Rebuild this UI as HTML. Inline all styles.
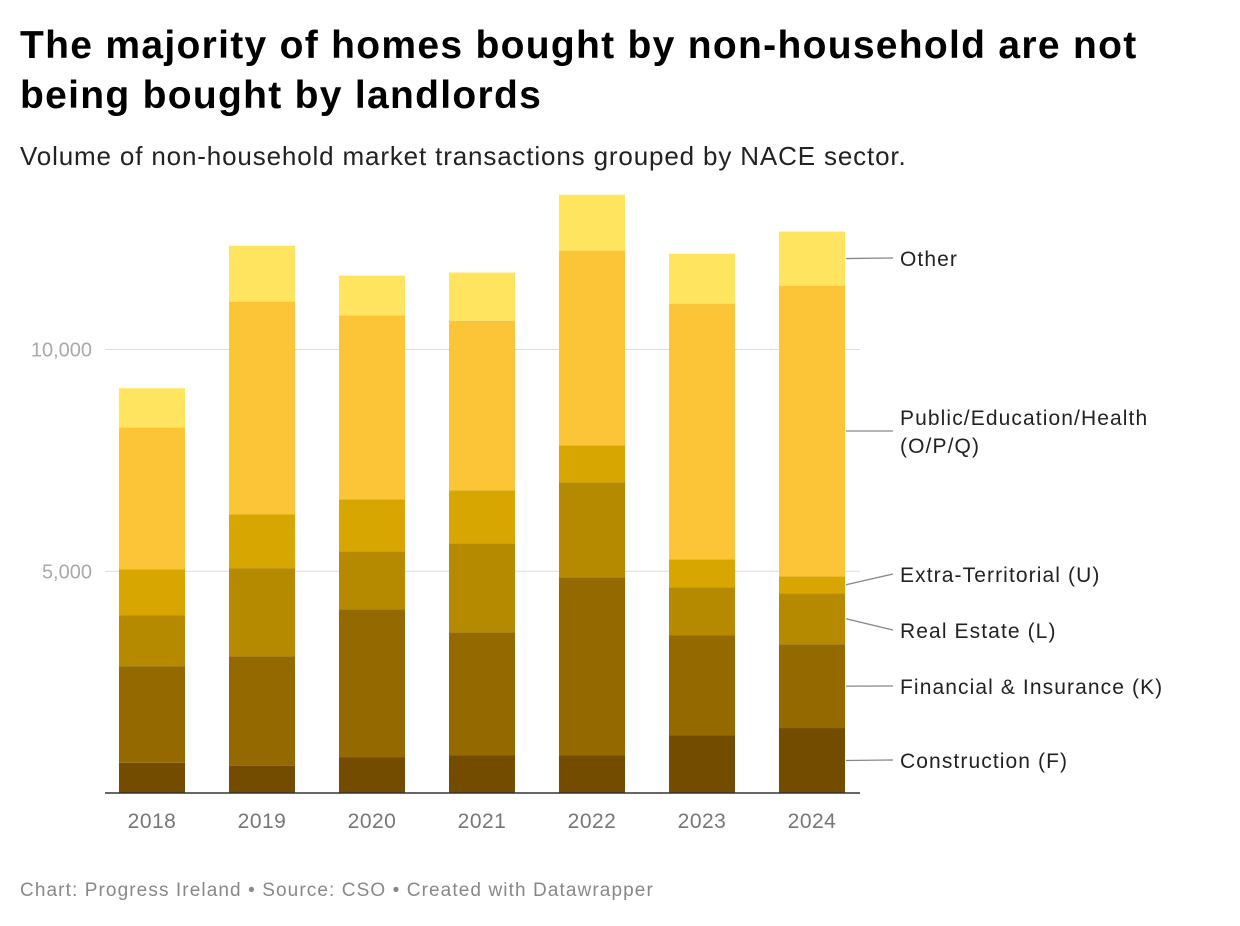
<!DOCTYPE html>
<html><head><meta charset="utf-8"><style>
body{margin:0;background:#fff;font-family:"Liberation Sans",Roboto,sans-serif;}
#wrap{position:relative;width:1240px;height:926px;overflow:hidden}
h1{position:absolute;left:20px;top:21px;margin:0;font-size:39px;line-height:50px;font-weight:bold;color:#000;width:1160px;letter-spacing:1.3px}
.sub{position:absolute;left:20px;top:141px;font-size:26px;letter-spacing:0.85px;color:#222}
.foot{position:absolute;left:20px;top:880px;font-size:19px;letter-spacing:1.1px;color:#888}
</style></head><body>
<div id="wrap">
<h1>The majority of homes bought by non-household are not being bought by landlords</h1>
<div class="sub">Volume of non-household market transactions grouped by NACE sector.</div>
<svg id="chart" width="1240" height="926" style="position:absolute;left:0;top:0"></svg>
<div class="foot">Chart: Progress Ireland • Source: CSO • Created with Datawrapper</div>
</div>
<script>
const years=["2018","2019","2020","2021","2022","2023","2024"];
const construction=[680,610,810,855,855,1305,1465];
const financial=[2180,2475,3335,2770,4010,2255,1890];
const realEstate=[1150,1985,1305,2005,2140,1080,1150];
const extraTerritorial=[1035,1210,1170,1195,835,630,380];
const publicEdHealth=[3200,4800,4145,3825,4390,5765,6555];
const other=[880,1260,900,1085,1260,1125,1220];
const yTicks=[0,5000,10000];
const seriesNames=["Construction (F)","Financial & Insurance (K)","Real Estate (L)","Extra-Territorial (U)","Public/Education/Health (O/P/Q)","Other"];
const series=[construction,financial,realEstate,extraTerritorial,publicEdHealth,other];
const colors=["#734c00","#946900","#b58900","#d8a600","#fcc537","#ffe55f"];
const labelY=[760,686,630,574,null,258];

const svg=document.getElementById('chart');
const NS="http://www.w3.org/2000/svg";
const y0=793,yScale=443.5/10000;
const y=v=>y0-v*yScale;
const xc=i=>152+i*110;
const bw=66;
function mk(t,a){const e=document.createElementNS(NS,t);for(const k in a)e.setAttribute(k,a[k]);svg.appendChild(e);return e;}

yTicks.forEach(t=>{
  if(t>0){const g=mk('line',{x1:105,x2:860,y1:y(t),y2:y(t),stroke:'#ddd','stroke-width':1});
  
  }
  if(t>0){const tx=mk('text',{x:92,y:y(t)+7,'text-anchor':'end','font-size':20,fill:'#aaa','font-family':'Liberation Sans,sans-serif'});
  tx.textContent=t.toLocaleString('en-US');
  
  }
});

const tops=[];
years.forEach((yr,i)=>{
  let cum=0;
  series.forEach((s,j)=>{
    const r=mk('rect',{x:xc(i)-bw/2,y:y(cum+s[i]),width:bw,height:s[i]*yScale,fill:colors[j]});
    
    
    if(i===years.length-1)tops.push([cum,cum+s[i]]);
    cum+=s[i];
  });
  const t=mk('text',{x:xc(i),y:828,'text-anchor':'middle','font-size':21,fill:'#777','font-family':'Liberation Sans,sans-serif','letter-spacing':0.5});
  t.textContent=yr;
  
  
});
const ax=mk('line',{x1:105,x2:860,y1:y0,y2:y0,stroke:'#333','stroke-width':1.5});



seriesNames.forEach((n,j)=>{
  const mid=y((tops[j][0]+tops[j][1])/2);
  const ly=labelY[j]===null?mid:labelY[j];
  const l=mk('path',{d:`M846 ${mid} L893 ${ly}`,stroke:'#888','stroke-width':1.3,fill:'none'});
  
  
  const t=mk('text',{x:900,y:ly+8,'font-size':21,fill:'#222','font-family':'Liberation Sans,sans-serif','letter-spacing':1.1});
  
  
  if(j===4){
    const a=document.createElementNS(NS,'tspan');a.setAttribute('x',900);a.setAttribute('dy',-14);a.textContent="Public/Education/Health";t.appendChild(a);
    const b=document.createElementNS(NS,'tspan');b.setAttribute('x',900);b.setAttribute('dy',28);b.textContent="(O/P/Q)";t.appendChild(b);
  } else t.textContent=n;
});
</script>
</body></html>
